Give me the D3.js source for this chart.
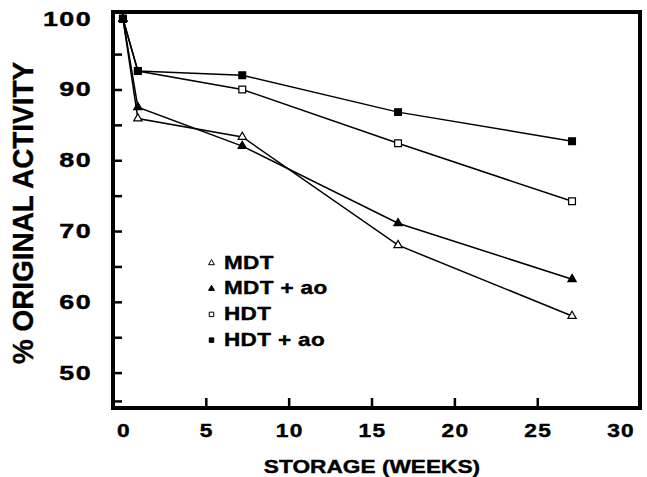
<!DOCTYPE html>
<html>
<head>
<meta charset="utf-8">
<script src="https://cdn.jsdelivr.net/npm/d3@7"></script>
<style>
  html, body { margin: 0; padding: 0; background: #fff; }
  svg { display: block; }
  text { font-family: "Liberation Sans", Arial, Helvetica, sans-serif; font-weight: bold; fill: #000; stroke: #000; stroke-width: 0.4; }
</style>
</head>
<body>
<svg id="chart" width="647" height="477"></svg>
<script>
// Storage time in weeks at which activity was measured
const weeks = [0, 0.9, 7.2, 16.6, 27.1];

// % of original activity for each preparation
const mdt   = [100, 85.9, 83.3, 68.0, 58.0];
const mdtAo = [100, 87.5, 82.0, 71.1, 63.2];
const hdt   = [100, 92.6, 90.0, 82.4, 74.2];
const hdtAo = [100, 92.6, 92.0, 86.8, 82.7];

const seriesNames = ["MDT", "MDT + ao", "HDT", "HDT + ao"];

// Axis ticks and labels
const xTickMarks  = [5, 10, 15, 20, 25];
const xTickLabels = [0, 5, 10, 15, 20, 25, 30];
const yTickMarks  = [46, 50, 55, 60, 65, 70, 75, 80, 85, 90, 95];
const yTickLabels = [50, 60, 70, 80, 90, 100];

const svg = d3.select("#chart");

const frame = { left: 113, right: 640, top: 12, bottom: 408 };

const x = d3.scaleLinear().domain([-0.6, 31.2]).range([frame.left, frame.right]);
const y = d3.scaleLinear().domain([45, 100]).range([frame.bottom, 18.7]);

const series = [
  { name: seriesNames[0], values: mdt,   shape: d3.symbolTriangle, filled: false },
  { name: seriesNames[1], values: mdtAo, shape: d3.symbolTriangle, filled: true  },
  { name: seriesNames[2], values: hdt,   shape: d3.symbolSquare,   filled: false },
  { name: seriesNames[3], values: hdtAo, shape: d3.symbolSquare,   filled: true  }
];

// Connecting lines
const line = d3.line().x(d => x(d[0])).y(d => y(d[1]));
svg.append("g").selectAll("path")
  .data(series)
  .join("path")
  .attr("d", s => line(weeks.map((w, i) => [w, s.values[i]])))
  .attr("fill", "none")
  .attr("stroke", "#000")
  .attr("stroke-width", 1.5);

// Markers
const symSize = s => s.shape === d3.symbolTriangle ? 30 : 46;
series.forEach(s => {
  const sym = d3.symbol().type(s.shape).size(symSize(s));
  svg.append("g").selectAll("path")
    .data(weeks.map((w, i) => [w, s.values[i]]))
    .join("path")
    .attr("transform", d => `translate(${x(d[0])},${y(d[1])})`)
    .attr("d", sym)
    .attr("fill", s.filled ? "#000" : "#fff")
    .attr("stroke", "#000")
    .attr("stroke-width", 1.2);
});

// Inward tick marks
svg.append("g")
  .attr("transform", `translate(${frame.left},0)`)
  .call(d3.axisLeft(y).tickValues(yTickMarks).tickSizeInner(-9).tickSizeOuter(0).tickFormat(""))
  .call(g => g.select(".domain").remove())
  .call(g => g.selectAll("line").attr("stroke", "#000").attr("stroke-width", 2.5));

svg.append("g")
  .attr("transform", `translate(0,${frame.bottom})`)
  .call(d3.axisBottom(x).tickValues(xTickMarks).tickSizeInner(-10).tickSizeOuter(0).tickFormat(""))
  .call(g => g.select(".domain").remove())
  .call(g => g.selectAll("line").attr("stroke", "#000").attr("stroke-width", 2.5));

// Frame
svg.append("rect")
  .attr("x", frame.left).attr("y", frame.top)
  .attr("width", frame.right - frame.left)
  .attr("height", frame.bottom - frame.top)
  .attr("fill", "none")
  .attr("stroke", "#000")
  .attr("stroke-width", 4);

// Tick labels (wide lettering)
svg.append("g").selectAll("g")
  .data(yTickLabels)
  .join("g")
  .attr("transform", d => `translate(92,${y(d) + 7}) scale(1.38,1)`)
  .append("text")
  .attr("text-anchor", "end")
  .attr("font-size", 19.5)
  .attr("letter-spacing", 1)
  .text(d => d);

svg.append("g").selectAll("g")
  .data(xTickLabels)
  .join("g")
  .attr("transform", d => `translate(${x(d) + 1},437) scale(1.3,1)`)
  .append("text")
  .attr("text-anchor", "middle")
  .attr("font-size", 17.5)
  .attr("letter-spacing", 1)
  .text(d => d);

// Axis titles
svg.append("g")
  .attr("transform", "translate(372,473) scale(1.26,1)")
  .append("text")
  .attr("text-anchor", "middle")
  .attr("font-size", 18)
  .text("STORAGE (WEEKS)");

svg.append("text")
  .attr("transform", "translate(33,213) rotate(-90) scale(0.93,1)")
  .attr("text-anchor", "middle")
  .attr("font-size", 30)
  .text("% ORIGINAL ACTIVITY");

// Legend
const legend = svg.append("g");
series.forEach((s, i) => {
  const cy = 262 + i * 25.7;
  legend.append("path")
    .attr("transform", `translate(211.5,${cy + 1})`)
    .attr("d", d3.symbol().type(s.shape).size(s.shape === d3.symbolTriangle ? 15 : 20))
    .attr("fill", s.filled ? "#000" : "#fff")
    .attr("stroke", "#000")
    .attr("stroke-width", 1);
  legend.append("g")
    .attr("transform", `translate(224,${cy + 6.5}) scale(1.25,1)`)
    .append("text")
    .attr("font-size", 18)
    .attr("letter-spacing", 0.3)
    .text(s.name);
});
</script>
</body>
</html>
